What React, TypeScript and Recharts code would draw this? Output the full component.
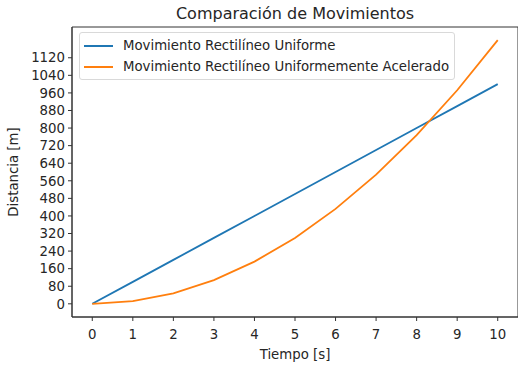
import React from 'react';
import { LineChart, Line, XAxis, YAxis, ReferenceArea, Label } from 'recharts';

const tiempo = [0, 1, 2, 3, 4, 5, 6, 7, 8, 9, 10];
const uniforme = [0, 100, 200, 300, 400, 500, 600, 700, 800, 900, 1000];
const acelerado = [0, 12, 48, 108, 192, 300, 432, 588, 768, 972, 1200];
const yTicks = [0, 80, 160, 240, 320, 400, 480, 560, 640, 720, 800, 880, 960, 1040, 1120];

const SERIES = [
    { key: 'mru', name: 'Movimiento Rectilíneo Uniforme', color: '#1f77b4' },
    { key: 'mrua', name: 'Movimiento Rectilíneo Uniformemente Acelerado', color: '#ff7f0e' },
];

const data = tiempo.map((t, i) => ({ t, mru: uniforme[i], mrua: acelerado[i] }));

const FONT = '"DejaVu Sans", sans-serif';
const TEXT = '#262626';
const FS = 13.3;

// legend drawn like matplotlib's boxed legend in the upper left
const LegendBox = () => (
    <div style={{
        position: 'absolute', left: 79, top: 32,
        border: '1px solid #d9d9d9', borderRadius: 3, background: 'rgba(255,255,255,0.8)',
        padding: '2px 5px 2px 4px', fontSize: FS, color: TEXT, whiteSpace: 'nowrap',
    }}>
        {SERIES.map(s => (
            <div key={s.key} style={{ display: 'flex', alignItems: 'center', height: 21 }}>
                <span style={{ width: 29, height: 2, background: s.color, marginRight: 10 }} />
                <span>{s.name}</span>
            </div>
        ))}
    </div>
);

export default function App() {
    return (
        <div style={{ position: 'absolute', left: 0, top: 0, width: 518, height: 365, background: '#fff', fontFamily: FONT }}>
            <div style={{ position: 'absolute', top: 4, left: 72, width: 446, textAlign: 'center', fontSize: 16, color: TEXT }}>
                Comparación de Movimientos
            </div>
            <LineChart width={518} height={365} data={data} margin={{ top: 27, right: 0, bottom: 0, left: 0 }}>
                <XAxis
                    dataKey="t" type="number" domain={[-0.5, 10.5]} ticks={tiempo}
                    height={48} tickSize={4} tickMargin={9}
                    stroke="#333" tick={{ fill: TEXT, fontSize: FS, fontFamily: FONT }}
                >
                    <Label value="Tiempo [s]" position="insideBottom" offset={6} fill={TEXT} fontSize={FS} fontFamily={FONT} />
                </XAxis>
                <YAxis
                    type="number" domain={[-60, 1260]} ticks={yTicks}
                    width={72} tickSize={4} tickMargin={3} interval={0}
                    stroke="#333" tick={{ fill: TEXT, fontSize: FS, fontFamily: FONT }}
                >
                    <Label value="Distancia [m]" angle={-90} position="insideLeft" offset={13} fill={TEXT} fontSize={FS} fontFamily={FONT} style={{ textAnchor: 'middle' }} />
                </YAxis>
                <ReferenceArea x1={-0.5} x2={10.5} y1={-60} y2={1260} fill="none" stroke="#333" strokeWidth={1} />
                {SERIES.map(s => (
                    <Line
                        key={s.key} dataKey={s.key} name={s.name} stroke={s.color}
                        strokeWidth={1.8} dot={false} type="linear" isAnimationActive={false}
                    />
                ))}
            </LineChart>
            <LegendBox />
        </div>
    );
}
